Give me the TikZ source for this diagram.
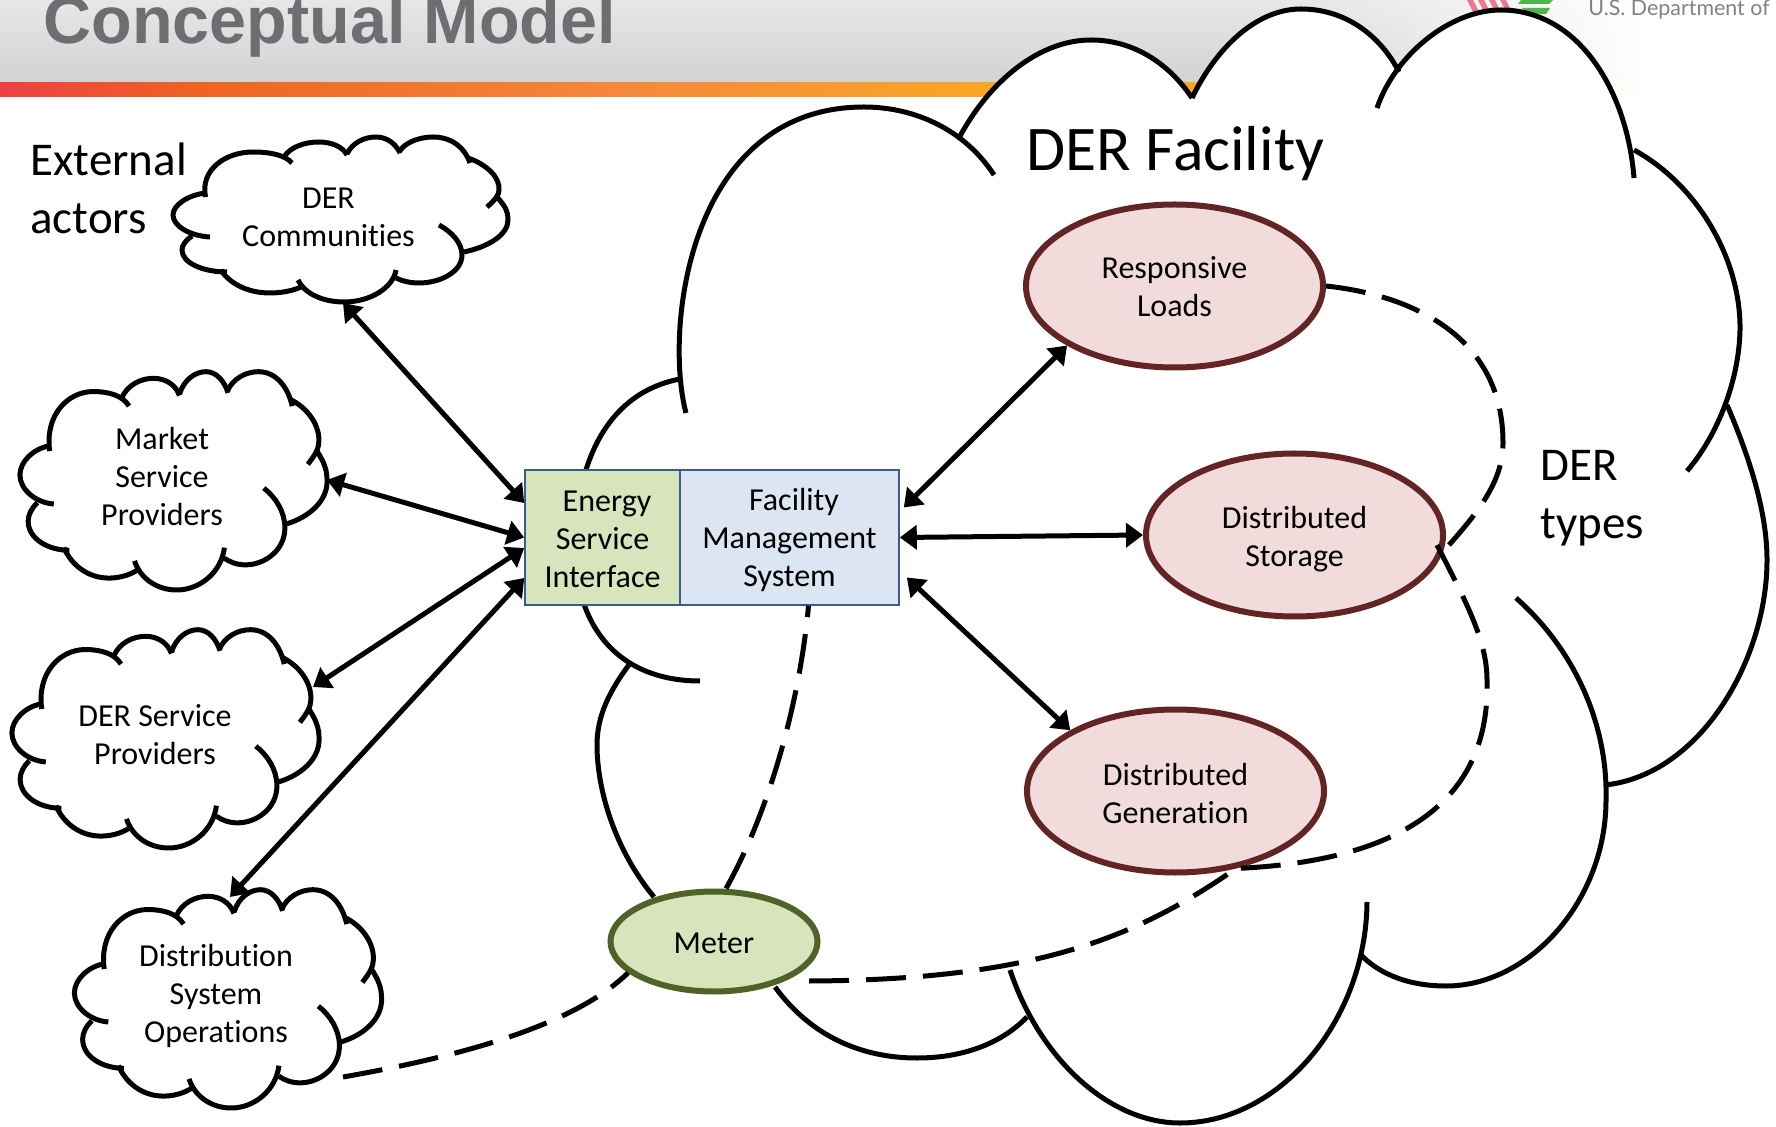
\documentclass[tikz,border=0pt]{standalone}
\usepackage{fontspec}
\setmainfont[Ligatures={NoCommon,NoContextual}]{Carlito}
\newfontfamily\titlefont{Liberation Sans}
\newfontfamily\deptfont{Lato}
\usetikzlibrary{arrows.meta,fadings,shapes.geometric}
\definecolor{headtop}{HTML}{E6E7E6}
\definecolor{headbot}{HTML}{D1D2D4}
\definecolor{titlegray}{HTML}{6D6E71}
\definecolor{deptgray}{HTML}{808285}
\definecolor{esifill}{HTML}{D7E4BC}
\definecolor{fmsfill}{HTML}{DCE6F2}
\definecolor{boxline}{HTML}{385D8A}
\definecolor{rosefill}{HTML}{F2DCDB}
\definecolor{roseline}{HTML}{632523}
\definecolor{meterline}{HTML}{4F6228}
\definecolor{logopink}{HTML}{E57A90}
\definecolor{logogreen}{HTML}{4DB848}
\definecolor{barA}{HTML}{EE4044}
\definecolor{barB}{HTML}{EE6620}
\definecolor{barC}{HTML}{F58A3A}
\definecolor{barD}{HTML}{F9A826}
\definecolor{barE}{HTML}{FFF4DC}
\pgfdeclarehorizontalshading{barshade}{100bp}{
  color(0bp)=(barA);
  color(25bp)=(barA);
  color(30.9bp)=(barB);
  color(43bp)=(barC);
  color(53.2bp)=(barD);
  color(61.6bp)=(barD);
  color(68bp)=(barE);
  color(71.2bp)=(white);
  color(100bp)=(white)}
\tikzfading[name=fadeeast,left color=transparent!100,right color=transparent!0]
\newcommand{\dn}[1]{\rule{0pt}{\dimexpr 11.4pt+2\dimexpr #1\relax\relax}}
\tikzset{
  cloudline/.style={draw=black,line width=2.5pt,line cap=butt},
  cloudtext/.style={font=\fontsize{16}{19}\selectfont,align=center,inner sep=0pt},
  bigtext/.style={font=\fontsize{23.5}{29}\selectfont,anchor=base west,inner sep=0pt},
  twoway/.style={line width=2.5pt,{Triangle[length=8.5pt,width=12pt]}-{Triangle[length=8.5pt,width=12pt]}},
  dashline/.style={line width=2.5pt,dash pattern=on 20pt off 8.5pt},
  boxnode/.style={draw=boxline,line width=0.8pt,inner sep=0pt,align=center,font=\fontsize{16}{19}\selectfont},
  derellipse/.style={ellipse,draw=roseline,fill=rosefill,line width=3pt,inner sep=0pt,align=center,
    minimum width=148.5pt,minimum height=81.5pt,font=\fontsize{16}{19}\selectfont},
  meterellipse/.style={ellipse,draw=meterline,fill=esifill,line width=3pt,inner sep=0pt,align=center,
    minimum width=103.5pt,minimum height=50pt,font=\fontsize{16}{19}\selectfont}
}
\newcommand{\smallcloud}[4]{%
  \begin{scope}[shift={(#1,#2)},xscale=#3,yscale=#4,shift={(-340.5,-220)}]
    \draw[cloudline] (205.5,197) .. controls (200,170) and (225,152) .. (253,152) .. controls (270,152) and (285,155) .. (292,163);
    \draw[cloudline] (284,157) .. controls (290,147) and (305,142) .. (318.6,142) .. controls (332,142) and (343,147) .. (347,155);
    \draw[cloudline] (347,154) .. controls (352,143) and (364,137) .. (376,137) .. controls (387,137) and (396,144) .. (400,153);
    \draw[cloudline] (399,152) .. controls (405,142) and (420,137) .. (433,137) .. controls (452,137) and (465,148) .. (470,163);
    \draw[cloudline] (468,158) .. controls (488,165) and (500,178) .. (499,190) .. controls (499,195) and (495,200) .. (487,207);
    \draw[cloudline] (497,197) .. controls (504,205) and (508,210) .. (508,220) .. controls (508,235) and (488,247) .. (464,252);
    \draw[cloudline] (439,225) .. controls (452,232) and (462,243) .. (462,255) .. controls (462,272) and (440,283) .. (419,283) .. controls (410,283) and (402,281) .. (396,278);
    \draw[cloudline] (396,270) .. controls (393,288) and (370,302) .. (344,302) .. controls (322,302) and (304,293) .. (298,280);
    \draw[cloudline] (301,287) .. controls (292,291) and (281,293) .. (270,293) .. controls (247,293) and (229,283) .. (221,270);
    \draw[cloudline] (227,272) .. controls (203,272) and (182,263) .. (182,250) .. controls (182,245) and (186,240) .. (192,236);
    \draw[cloudline] (210,237) .. controls (190,236) and (173,226) .. (173,215) .. controls (173,205) and (188,195) .. (205.5,193);
  \end{scope}}
\begin{document}
\begin{tikzpicture}[x=0.5pt,y=-0.5pt]
\useasboundingbox (0,0) rectangle (1776,1127);
\clip (0,0) rectangle (1776,1127);
% header
\shade[top color=headtop,bottom color=headbot] (0,0) rectangle (1776,84);
\fill[white,path fading=fadeeast] (1300,0) rectangle (1640,84);
\fill[white] (1640,0) rectangle (1776,84);
\shade[shading=barshade] (0,83) rectangle (1776,97);
\node[anchor=base west,inner sep=0pt,text=titlegray,font=\titlefont\bfseries\fontsize{33.25}{40}\selectfont] (title) at (43,44) {Conceptual Model};
% logo
\foreach \xx in {1467,1478,1489,1500}{\fill[logopink] (\xx,0) -- (\xx+6,0) -- (\xx+12,12) -- (\xx+6,12) -- cycle;}
\fill[logogreen] (1521,0) -- (1553,0) -- (1549,4) -- (1518,4) -- cycle;
\fill[logogreen] (1522,8) -- (1550,8) -- (1546,14) -- (1526,14) -- cycle;
\node[anchor=base west,inner sep=0pt,text=deptgray,font=\deptfont\fontsize{10.7}{13}\selectfont] (dept) at (1588,16) {U.S. Department of};
% large cloud: white interior
\filldraw[white,line width=3pt] (680,379) -- (959,138) -- (1192,98) -- (1399,72) -- (1634,150) -- (1729,405) -- (1605,785) -- (1360,954) -- (1027,1017) -- (775,987) -- (654,897) -- (631,662) -- (585,607) -- (581,468) -- cycle;
\fill[white] (686,413) .. controls (664,330) and (688,107) .. (864,107) .. controls (915,107) and (965,130) .. (994,175) -- cycle;
\fill[white] (959,138) .. controls (990,80) and (1040,40) .. (1091,40) .. controls (1135,40) and (1170,65) .. (1192,98) -- cycle;
\fill[white] (1192,98) .. controls (1215,50) and (1255,9) .. (1301,9) .. controls (1345,9) and (1380,35) .. (1399,72) -- cycle;
\fill[white] (1377,108) .. controls (1395,55) and (1450,10) .. (1501,10) .. controls (1578,10) and (1627,90) .. (1634,178) -- cycle;
% large cloud: lobes
\draw[cloudline] (686,413) .. controls (664,330) and (688,107) .. (864,107) .. controls (915,107) and (965,130) .. (994,175);
\draw[cloudline] (959,138) .. controls (990,80) and (1040,40) .. (1091,40) .. controls (1135,40) and (1170,65) .. (1192,98);
\draw[cloudline] (1192,98) .. controls (1215,50) and (1255,9) .. (1301,9) .. controls (1345,9) and (1380,35) .. (1399,72);
\draw[cloudline] (1377,108) .. controls (1395,55) and (1450,10) .. (1501,10) .. controls (1578,10) and (1627,90) .. (1634,178);
\draw[cloudline] (1634,150) .. controls (1698,185) and (1741,260) .. (1740,330) .. controls (1739,380) and (1718,435) .. (1687,471);
\draw[cloudline] (1727,405) .. controls (1755,470) and (1767,520) .. (1767,560) .. controls (1767,660) and (1700,775) .. (1605,785);
\draw[cloudline] (1516,598) .. controls (1575,650) and (1608,725) .. (1606,800) .. controls (1606,900) and (1530,986) .. (1446,986) .. controls (1410,986) and (1380,975) .. (1360,954);
\draw[cloudline] (1367,902) .. controls (1366,1020) and (1280,1123) .. (1180,1123) .. controls (1110,1123) and (1040,1060) .. (1010,970);
\draw[cloudline] (1027,1017) .. controls (1000,1045) and (960,1058) .. (917,1058) .. controls (860,1058) and (810,1035) .. (775,987);
\draw[cloudline] (654,897) .. controls (615,850) and (597,790) .. (597,745) .. controls (597,715) and (610,690) .. (631,662);
\draw[cloudline] (700,681) .. controls (650,681) and (605,660) .. (585,607) .. controls (565,545) and (570,400) .. (680,379);
% small clouds
\smallcloud{340.5}{220}{1}{1}
\smallcloud{173.5}{481.5}{0.917}{1.323}
\smallcloud{165.5}{739.5}{0.917}{1.323}
\smallcloud{228}{999.5}{0.917}{1.323}
% texts
\node[bigtext] (ext1) at (30,176) {External};
\node[bigtext] (ext2) at (30,234) {actors};
\node[anchor=base west,inner sep=0pt,font=\fontsize{31.8}{38}\selectfont] (facility) at (1026,171) {DER Facility};
\node[bigtext] (types1) at (1540,481) {DER};
\node[bigtext] (types2) at (1540,539) {types};
\node[cloudtext] (dc) at (328.5,217) {DER\\Communities};
\node[cloudtext] (msp) at (162,477) {Market\\Service\\Providers};
\node[cloudtext] (dsp) at (155,735) {DER Service\\Providers};
\node[cloudtext] (dso) at (216,996) {Distribution\\System\\Operations};
% nodes
\node[boxnode,fill=esifill,minimum width=77.5pt,minimum height=67.5pt] (esi) at (602.5,537.5) {\dn{0.25pt}\hspace*{4.5pt}Energy\\Service\\Interface};
\node[boxnode,fill=fmsfill,minimum width=109.5pt,minimum height=67.5pt] (fms) at (789.5,537.5) {\dn{1pt}\hspace*{4.5pt}Facility\\Management\\System};
\node[derellipse] (rl) at (1174.5,286) {\dn{0.25pt}Responsive\\Loads};
\node[derellipse] (ds) at (1294.5,535) {\dn{1.75pt}Distributed\\Storage};
\node[derellipse] (dg) at (1175.5,791) {\dn{1pt}Distributed\\Generation};
\node[meterellipse] (m) at (714,941.5) {\dn{0.5pt}Meter};
% free ends on the cloud outlines
\coordinate (dcport) at (343,303);
\coordinate (mspport) at (327,480);
\coordinate (dspport) at (313,687);
\coordinate (dsoport) at (230,897);
\coordinate (dsoline) at (343,1077);
\coordinate (dsin) at (1437,545);
\coordinate (dsout) at (1449,545);
\coordinate (mdash) at (809,981);
% arrows
\draw[twoway] (dcport) -- ([yshift=17.25pt]esi.west);
\draw[twoway] (mspport) -- (esi.west);
\draw[twoway] (dspport) -- ([yshift=-5.25pt]esi.west);
\draw[twoway] (dsoport) -- ([yshift=-20.25pt]esi.west);
\draw[twoway] ([xshift=2pt,yshift=15pt]fms.east) -- (rl.209);
\draw[twoway] (fms.east) -- (ds.west);
\draw[twoway] ([xshift=3.5pt,yshift=-20pt]fms.east) -- (dg.150);
% dashed links
\draw[dashline] (rl.east) .. controls (1410,295) and (1503,335) .. (1503,443) .. controls (1503,480) and (1480,510) .. (dsout);
\draw[dashline] (dsin) .. controls (1465,600) and (1487,640) .. (1487,680) .. controls (1490,780) and (1430,860) .. (dg.-52);
\draw[dashline] (mdash) .. controls (1040,980) and (1140,935) .. (dg.-52);
\draw[dashline] ([xshift=6pt]m.north) .. controls (770,810) and (800,700) .. ([xshift=9.5pt]fms.south);
\draw[dashline] (dsoline) .. controls (440,1060) and (570,1030) .. (m.200);
\end{tikzpicture}
\end{document}
